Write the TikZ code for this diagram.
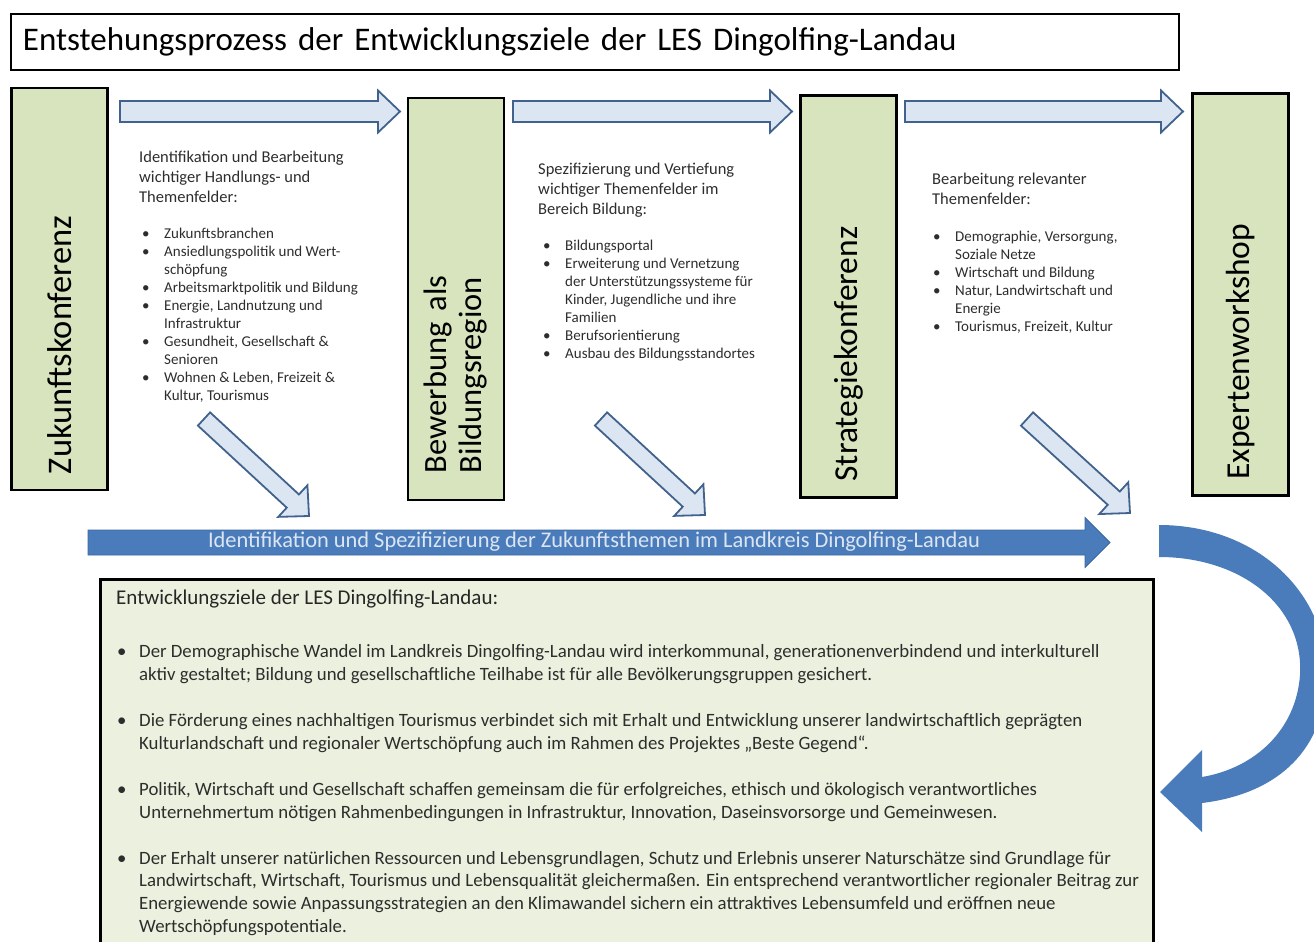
\documentclass[tikz,border=0pt]{standalone}
\usepackage{fontspec}
\setmainfont{Carlito}
\usetikzlibrary{calc}

\definecolor{boxgreen}{RGB}{215,228,189}
\definecolor{zielgreen}{RGB}{235,241,222}
\definecolor{lightblue}{RGB}{220,230,242}
\definecolor{lightedge}{RGB}{64,98,140}
\definecolor{darkblue}{RGB}{74,124,187}
\definecolor{darkedge}{RGB}{60,103,160}
\definecolor{txtgray}{RGB}{45,45,45}

\newcommand{\itm}{\makebox[22pt][l]{\textbullet}}
\newcommand{\cnt}{\hspace*{22pt}}
% block arrow: style, from, to, shaft half width, head half width, head length
\newcommand{\blockarrow}[6]{%
  \coordinate (hb) at ($(#3)!#6!(#2)$);
  \draw[#1] ($(#2)!#4!90:(#3)$) -- ($(hb)!#4!90:(#3)$) -- ($(hb)!#5!90:(#3)$) -- (#3)
    -- ($(hb)!#5!-90:(#3)$) -- ($(hb)!#4!-90:(#3)$) -- ($(#2)!#4!-90:(#3)$) -- cycle;
}

\begin{document}
\begin{tikzpicture}[x=1pt, y=-1pt,
    stagebox/.style={draw=black, line width=2.5pt, fill=boxgreen, rotate=90, text width=370pt,
      inner xsep=16pt, align=left, minimum height=96pt, font=\fontsize{34.5}{36}\selectfont},
    coltext/.style={anchor=north west, inner sep=0pt, align=left, text=txtgray,
      font=\fontsize{16.5}{20}\selectfont},
    listtext/.style={coltext, font=\fontsize{15}{18}\selectfont},
    lightarrow/.style={fill=lightblue, draw=lightedge, line width=1.8pt, line join=miter},
    darkarrow/.style={fill=darkblue, draw=darkedge, line width=0.8pt}]
  \useasboundingbox (0,0) rectangle (1314,942);

  % title
  \node[draw=black, line width=2pt, anchor=north west, minimum width=1168pt, minimum height=56pt,
    text width=1144pt, inner xsep=12pt, align=left, font=\fontsize{33}{36}\selectfont] (title) at (10,13)
    {Entstehungsprozess der Entwicklungsziele der LES Dingolfing-Landau};

  % stages
  \node[stagebox] (zuk) at (59.5,289) {Zukunftskonferenz};
  \node[stagebox, text width=348pt, inner xsep=27pt, font=\fontsize{32.5}{35}\selectfont] (bew) at (456,299)
    {Bewerbung als\\Bildungsregion};
  \node[stagebox, font=\fontsize{33.5}{36}\selectfont] (strat) at (848.5,296.5) {Strategiekonferenz};
  \node[stagebox, font=\fontsize{33.5}{36}\selectfont] (expert) at (1240.5,294.5) {Expertenworkshop};

  % arrows between the stages
  \coordinate (h1s) at (120,111.5);
  \coordinate (h1e) at (400,111.5);
  \coordinate (h2s) at (513,111.5);
  \coordinate (h2e) at (792,111.5);
  \coordinate (h3s) at (905,111.5);
  \coordinate (h3e) at (1183,111.5);
  \blockarrow{lightarrow}{h1s}{h1e}{10.5pt}{21pt}{22pt}
  \blockarrow{lightarrow}{h2s}{h2e}{10.5pt}{21pt}{22pt}
  \blockarrow{lightarrow}{h3s}{h3e}{10.5pt}{21pt}{22pt}

  % texts of the stages
  \node[coltext] (txtzuk) at (139,151) {Identifikation und Bearbeitung\\wichtiger Handlungs- und\\Themenfelder:};
  \node[listtext] (listzuk) at (142,228) {\itm Zukunftsbranchen\\
    \itm Ansiedlungspolitik und Wert-\\ \cnt schöpfung\\
    \itm Arbeitsmarktpolitik und Bildung\\
    \itm Energie, Landnutzung und\\ \cnt Infrastruktur\\
    \itm Gesundheit, Gesellschaft \&\\ \cnt Senioren\\
    \itm Wohnen \& Leben, Freizeit \&\\ \cnt Kultur, Tourismus};
  \node[coltext] (txtbew) at (538,163) {Spezifizierung und Vertiefung\\wichtiger Themenfelder im\\Bereich Bildung:};
  \node[listtext] (listbew) at (543,239.5) {\itm Bildungsportal\\
    \itm Erweiterung und Vernetzung\\ \cnt der Unterstützungssysteme für\\ \cnt Kinder, Jugendliche und ihre\\ \cnt Familien\\
    \itm Berufsorientierung\\
    \itm Ausbau des Bildungsstandortes};
  \node[coltext] (txtstrat) at (932,173) {Bearbeitung relevanter\\Themenfelder:};
  \node[listtext] (liststrat) at (933,230.5) {\itm Demographie, Versorgung,\\ \cnt Soziale Netze\\
    \itm Wirtschaft und Bildung\\
    \itm Natur, Landwirtschaft und\\ \cnt Energie\\
    \itm Tourismus, Freizeit, Kultur};

  % arrows down to the themes
  \coordinate (d1s) at (204,419);
  \coordinate (d1e) at (309,516);
  \coordinate (d2s) at (601,419);
  \coordinate (d2e) at (705,515);
  \coordinate (d3s) at (1027,419);
  \coordinate (d3e) at (1130,513);
  \blockarrow{lightarrow}{d1s}{d1e}{9pt}{21.5pt}{22pt}
  \blockarrow{lightarrow}{d2s}{d2e}{9pt}{21.5pt}{22pt}
  \blockarrow{lightarrow}{d3s}{d3e}{9pt}{21.5pt}{22pt}

  % themes
  \coordinate (ts) at (88,542.5);
  \coordinate (te) at (1110,542.5);
  \blockarrow{darkarrow}{ts}{te}{12.5pt}{25pt}{25pt}
  \node[text=lightblue, font=\fontsize{22.4}{24}\selectfont] (themen) at (594,542)
    {Identifikation und Spezifizierung der Zukunftsthemen im Landkreis Dingolfing-Landau};

  % bent arrow to the goals
  \fill[darkblue] (1159,525) .. controls (1262,525) and (1335,600) .. (1326,690)
    .. controls (1318,760) and (1268,795) .. (1202,803) -- (1202,832) -- (1160,792)
    -- (1202,750) -- (1202,777) .. controls (1255,768) and (1296,730) .. (1300,675)
    .. controls (1304,605) and (1240,557) .. (1159,557) -- cycle;

  % goals
  \node[draw=black, line width=3pt, fill=zielgreen, anchor=north west, minimum width=1053pt,
    minimum height=390pt] (ziele) at (99,578) {};
  \node[coltext, text=black!85, font=\fontsize{21}{24}\selectfont] (zieltitel) at ($(ziele.north west)+(17,12)$)
    {Entwicklungsziele der LES Dingolfing-Landau:};
  \node[coltext, font=\fontsize{18.8}{22.8}\selectfont] (ziellist) at ($(ziele.north west)+(18,66)$)
    {\itm Der Demographische Wandel im Landkreis Dingolfing-Landau wird interkommunal, generationenverbindend und interkulturell\\
     \cnt aktiv gestaltet; Bildung und gesellschaftliche Teilhabe ist für alle Bevölkerungsgruppen gesichert.\\[23.5pt]
     \itm Die Förderung eines nachhaltigen Tourismus verbindet sich mit Erhalt und Entwicklung unserer landwirtschaftlich geprägten\\
     \cnt Kulturlandschaft und regionaler Wertschöpfung auch im Rahmen des Projektes „Beste Gegend“.\\[23.5pt]
     \itm Politik, Wirtschaft und Gesellschaft schaffen gemeinsam die für erfolgreiches, ethisch und ökologisch verantwortliches\\
     \cnt Unternehmertum nötigen Rahmenbedingungen in Infrastruktur, Innovation, Daseinsvorsorge und Gemeinwesen.\\[23pt]
     \itm Der Erhalt unserer natürlichen Ressourcen und Lebensgrundlagen, Schutz und Erlebnis unserer Naturschätze sind Grundlage für\\
     \cnt Landwirtschaft, Wirtschaft, Tourismus und Lebensqualität gleichermaßen. Ein entsprechend verantwortlicher regionaler Beitrag zur\\
     \cnt Energiewende sowie Anpassungsstrategien an den Klimawandel sichern ein attraktives Lebensumfeld und eröffnen neue\\
     \cnt Wertschöpfungspotentiale.};
\end{tikzpicture}
\end{document}
